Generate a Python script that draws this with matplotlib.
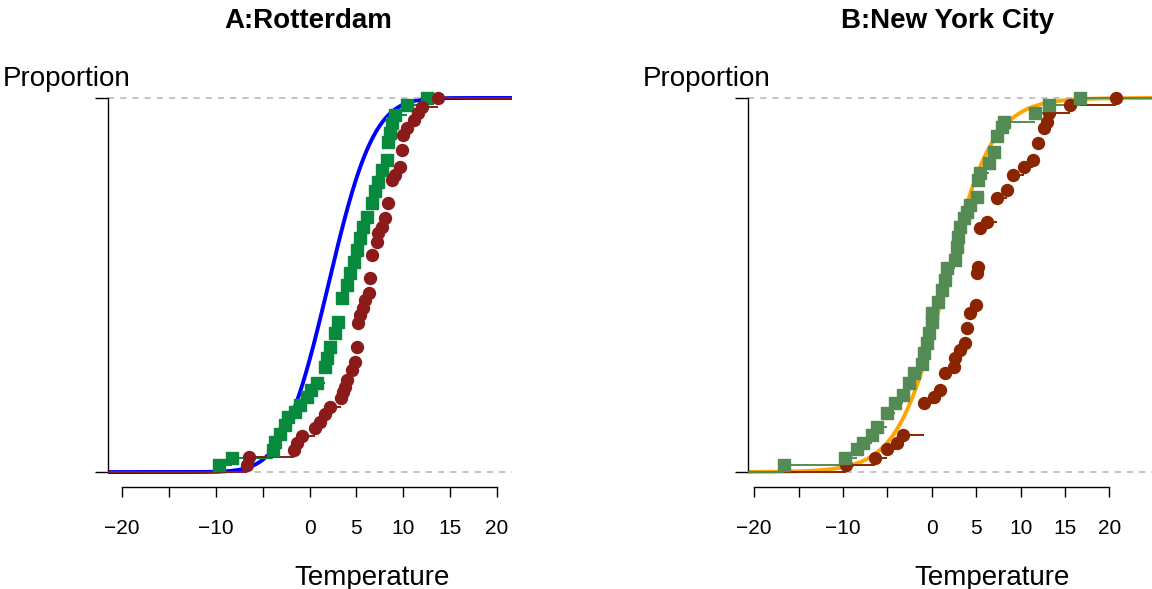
import math
import numpy as np
import matplotlib
matplotlib.use("Agg")
import matplotlib.pyplot as plt

plt.rcParams["font.family"] = ["Liberation Sans", "DejaVu Sans"]

# Rotterdam (panel A)
rot_green_x = [-9.7, -8.3, -3.9, -3.7, -3.15, -2.6, -2.25, -1.55, -1.0, -0.3,
               0.2, 0.75, 1.65, 1.85, 2.2, 2.7, 3.05, 3.45, 3.95, 4.35,
               4.7, 5.05, 5.4, 5.75, 6.1, 6.65, 7.0, 7.35, 7.7, 8.25,
               8.4, 8.6, 8.8, 9.15, 10.4, 12.5]
rot_green_y = [0.019, 0.038, 0.059, 0.081, 0.103, 0.126, 0.148, 0.161, 0.179, 0.201,
               0.219, 0.237, 0.282, 0.304, 0.335, 0.371, 0.402, 0.464, 0.5, 0.531,
               0.562, 0.594, 0.625, 0.656, 0.683, 0.718, 0.75, 0.776, 0.807, 0.834,
               0.883, 0.906, 0.932, 0.955, 0.981, 1.0]
rot_red_x = [-6.7, -6.5, -1.7, -1.35, -0.85, 0.6, 1.1, 1.6, 2.2, 3.4,
             3.55, 3.75, 3.95, 4.5, 4.85, 5.05, 5.2, 5.4, 5.75, 5.95,
             6.3, 6.45, 6.65, 7.15, 7.35, 7.7, 8.05, 8.4, 8.75, 9.15,
             9.65, 9.85, 10.0, 10.4, 11.1, 11.6, 12.0, 13.75]
rot_red_y = [0.019, 0.041, 0.059, 0.077, 0.097, 0.118, 0.134, 0.154, 0.173, 0.197,
             0.215, 0.228, 0.246, 0.273, 0.295, 0.335, 0.398, 0.42, 0.438, 0.46,
             0.478, 0.518, 0.58, 0.616, 0.638, 0.656, 0.678, 0.718, 0.781, 0.794,
             0.816, 0.861, 0.901, 0.919, 0.941, 0.959, 0.977, 1.0]
rot_fit_mean, rot_fit_sd = 2.0, 3.8

# New York City (panel B)
nyc_green_x = [-16.7, -9.75, -8.4, -7.7, -6.75, -6.2, -5.05, -4.1, -3.2, -2.6,
               -2.05, -1.1, -0.9, -0.55, -0.35, 0.0, 0.05, 0.75, 1.15, 1.5,
               1.7, 2.65, 2.85, 3.0, 3.2, 3.6, 3.95, 4.35, 5.1, 5.25,
               5.45, 6.4, 6.95, 7.35, 7.9, 8.1, 11.65, 13.15, 16.7]
nyc_green_y = [0.019, 0.038, 0.061, 0.078, 0.099, 0.121, 0.157, 0.184, 0.206, 0.237,
               0.264, 0.29, 0.317, 0.344, 0.371, 0.402, 0.424, 0.455, 0.487, 0.513,
               0.545, 0.567, 0.602, 0.629, 0.656, 0.678, 0.696, 0.714, 0.736, 0.781,
               0.799, 0.825, 0.856, 0.897, 0.923, 0.937, 0.959, 0.981, 1.0]
nyc_red_x = [-9.7, -6.4, -5.05, -3.95, -3.2, -0.9, 0.2, 0.95, 1.5, 2.45,
             2.65, 3.2, 3.75, 3.95, 4.35, 5.0, 5.1, 5.25, 5.45, 6.2,
             7.35, 8.45, 9.2, 10.35, 11.45, 12.0, 12.6, 12.95, 13.15, 15.6, 20.8]
nyc_red_y = [0.019, 0.038, 0.061, 0.078, 0.099, 0.184, 0.201, 0.219, 0.264, 0.282,
             0.304, 0.326, 0.344, 0.384, 0.424, 0.447, 0.531, 0.549, 0.652, 0.669,
             0.732, 0.754, 0.794, 0.816, 0.834, 0.879, 0.919, 0.937, 0.959, 0.981, 1.0]
nyc_fit_loc, nyc_fit_scale = 1.5, 2.65

tick_pos = [-20, -15, -10, -5, 0, 5, 10, 15, 20]
tick_lab = ["\u221220", "", "\u221210", "", "0", "5", "10", "15", "20"]


def normal_cdf(x, m, s):
    return np.array([0.5 * (1 + math.erf((v - m) / (s * math.sqrt(2)))) for v in x])


def logistic_cdf(x, m, s):
    return 1.0 / (1.0 + np.exp(-(x - m) / s))


def ecdf_steps(ax, xs, ys, color, marker):
    xs = np.array(xs)
    ys = np.array(ys)
    ends = np.append(xs[1:], 100)
    ax.hlines(ys, xs, ends, color=color, lw=1.4, zorder=3)
    ax.hlines(0, -100, xs[0], color=color, lw=1.4, zorder=3)
    ax.plot(xs, ys, linestyle="none", marker=marker, ms=8.6,
            color=color, mec=color, zorder=4)


def style_axes(ax, xlim):
    ax.set_xlim(*xlim)
    ax.set_ylim(-0.04, 1.04)
    ax.spines["top"].set_visible(False)
    ax.spines["right"].set_visible(False)
    ax.spines["left"].set_bounds(0, 1)
    ax.spines["bottom"].set_bounds(-20, 20)
    ax.spines["left"].set_linewidth(1.0)
    ax.spines["bottom"].set_linewidth(1.0)
    ax.set_yticks([0, 1])
    ax.set_yticklabels(["", ""])
    ax.tick_params(axis="y", length=9.4, width=1.0)
    ax.set_xticks(tick_pos)
    ax.set_xticklabels(tick_lab, fontsize=15)
    ax.tick_params(axis="x", length=7.2, width=1.0, pad=16)
    ax.axhline(0, color="#B3B3B3", lw=1.1, ls=(0, (4, 4)), zorder=2)
    ax.axhline(1, color="#B3B3B3", lw=1.1, ls=(0, (4, 4)), zorder=2)


fig = plt.figure(figsize=(11.52, 5.89), dpi=100)
ax1 = fig.add_axes([108 / 1152, 102 / 589, 404 / 1152, 404 / 589])
ax2 = fig.add_axes([748 / 1152, 102 / 589, 404 / 1152, 404 / 589])

xl1 = (-21.5, 21.6)
xl2 = (-20.7, 24.8)

grid1 = np.linspace(xl1[0], xl1[1], 400)
ax1.plot(grid1, normal_cdf(grid1, rot_fit_mean, rot_fit_sd), color="#0000FF", lw=2.8, zorder=1)
ecdf_steps(ax1, rot_green_x, rot_green_y, "#078A3E", "s")
ecdf_steps(ax1, rot_red_x, rot_red_y, "#8B1A1A", "o")
style_axes(ax1, xl1)

grid2 = np.linspace(xl2[0], xl2[1], 400)
ax2.plot(grid2, logistic_cdf(grid2, nyc_fit_loc, nyc_fit_scale), color="#FFA500", lw=2.8, zorder=1)
ecdf_steps(ax2, nyc_red_x, nyc_red_y, "#8B2500", "o")
ecdf_steps(ax2, nyc_green_x, nyc_green_y, "#548B54", "s")
style_axes(ax2, xl2)

fig.text(308 / 1152, 1 - 21 / 589, "A:Rotterdam", ha="center", va="center",
         fontsize=20, fontweight="bold")
fig.text(948 / 1152, 1 - 21 / 589, "B:New York City", ha="center", va="center",
         fontsize=20, fontweight="bold")
fig.text(3 / 1152, 1 - 79 / 589, "Proportion", ha="left", va="center", fontsize=20)
fig.text(643 / 1152, 1 - 79 / 589, "Proportion", ha="left", va="center", fontsize=20)
fig.text(372 / 1152, 1 - 578 / 589, "Temperature", ha="center", va="center", fontsize=20)
fig.text(992 / 1152, 1 - 578 / 589, "Temperature", ha="center", va="center", fontsize=20)

fig.savefig("out.png", dpi=100)
plt.close(fig)
